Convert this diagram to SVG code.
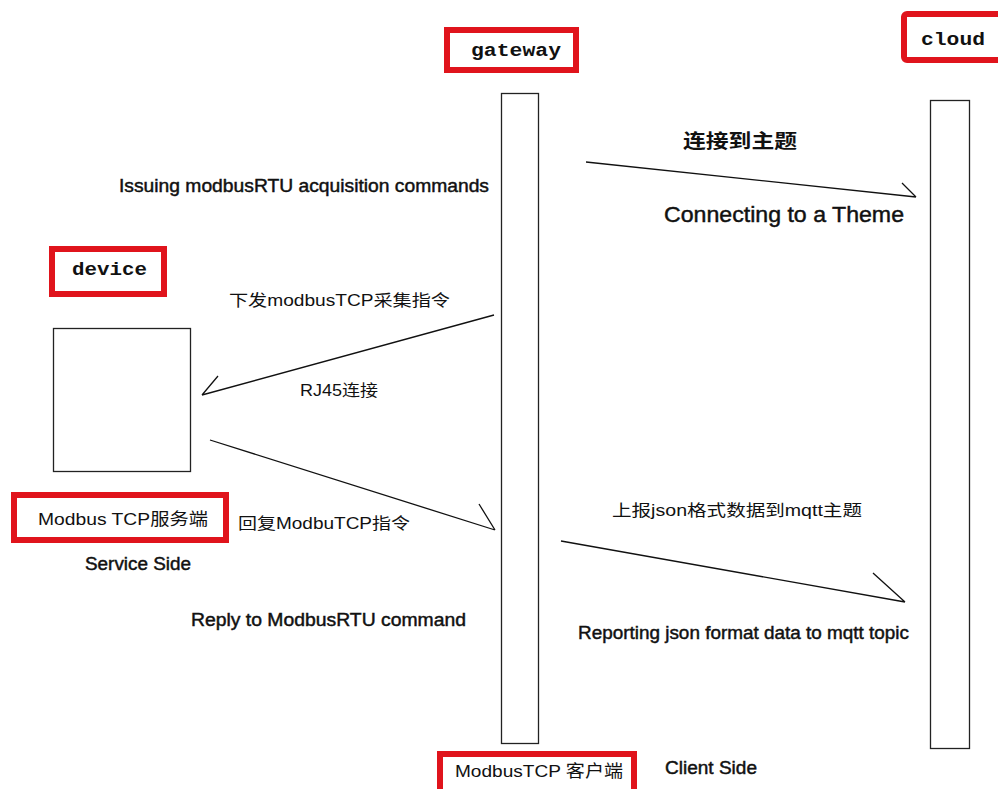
<svg xmlns="http://www.w3.org/2000/svg" width="998" height="789" viewBox="0 0 998 789">
<style>
.tag{fill:#fff;stroke:#e0141c;stroke-width:6}
.mono{font-family:"Liberation Mono","DejaVu Sans Mono",monospace;font-weight:bold;font-size:19px;fill:#111}
.lab{font-family:"Liberation Sans","Noto Sans CJK SC",sans-serif;fill:#111}
.en{stroke:#111;stroke-width:0.45}
.life{fill:#fff;stroke:#222;stroke-width:1.3}
.conn{stroke:#111;stroke-width:1.3;fill:none}
</style>
<rect width="998" height="789" fill="#fff"/>
<g id="gateway">
<rect class="tag" x="447" y="30" width="129" height="40"/>
<text class="mono" x="471" y="56" textLength="90" lengthAdjust="spacingAndGlyphs">gateway</text>
<rect class="life" x="501.5" y="93.5" width="37" height="650"/>
</g>
<g id="cloud">
<rect class="tag" x="904" y="14" width="97" height="46" rx="3"/>
<text class="mono" x="921" y="45" textLength="64" lengthAdjust="spacingAndGlyphs">cloud</text>
<rect class="life" x="930.5" y="100.5" width="39" height="648"/>
</g>
<g id="device">
<rect class="tag" x="52" y="249" width="112" height="45"/>
<text class="mono" x="72" y="275" textLength="75" lengthAdjust="spacingAndGlyphs">device</text>
<rect class="life" x="53.5" y="328.5" width="137" height="143"/>
</g>
<g id="service">
<rect class="tag" x="14" y="495" width="212" height="45"/>
<text class="lab" x="38" y="525" font-size="17" textLength="170" lengthAdjust="spacingAndGlyphs">Modbus TCP服务端</text>
<text class="lab en" x="85" y="570" font-size="18" textLength="106" lengthAdjust="spacingAndGlyphs">Service Side</text>
</g>
<g id="client">
<rect class="tag" x="440" y="754" width="194" height="38"/>
<text class="lab" x="455" y="777" font-size="17" textLength="168" lengthAdjust="spacingAndGlyphs">ModbusTCP 客户端</text>
<text class="lab en" x="665" y="774" font-size="18" textLength="92" lengthAdjust="spacingAndGlyphs">Client Side</text>
</g>
<g id="connectors">
<path class="conn" d="M586 162 L916 197 M902 183 L916 197"/>
<path class="conn" d="M494 315 L202 395 M218 376 L202 395"/>
<path class="conn" d="M210 440 L495 530 M479 504 L495 530"/>
<path class="conn" d="M561 541 L905 602 M873 573 L905 602"/>
</g>
<g id="labels">
<text class="lab" x="683" y="148" font-size="19" font-weight="bold" textLength="114" lengthAdjust="spacingAndGlyphs">连接到主题</text>
<text class="lab en" x="664" y="222" font-size="22" textLength="240" lengthAdjust="spacingAndGlyphs">Connecting to a Theme</text>
<text class="lab en" x="119" y="192" font-size="18" textLength="370" lengthAdjust="spacingAndGlyphs">Issuing modbusRTU acquisition commands</text>
<text class="lab" x="229" y="306" font-size="16" textLength="221" lengthAdjust="spacingAndGlyphs">下发modbusTCP采集指令</text>
<text class="lab" x="300" y="396" font-size="16" textLength="78" lengthAdjust="spacingAndGlyphs">RJ45连接</text>
<text class="lab" x="238" y="529" font-size="16" textLength="172" lengthAdjust="spacingAndGlyphs">回复ModbuTCP指令</text>
<text class="lab en" x="191" y="626" font-size="18" textLength="275" lengthAdjust="spacingAndGlyphs">Reply to ModbusRTU command</text>
<text class="lab" x="612" y="516" font-size="16" textLength="250" lengthAdjust="spacingAndGlyphs">上报json格式数据到mqtt主题</text>
<text class="lab en" x="578" y="639" font-size="18" textLength="331" lengthAdjust="spacingAndGlyphs">Reporting json format data to mqtt topic</text>
</g>
</svg>
